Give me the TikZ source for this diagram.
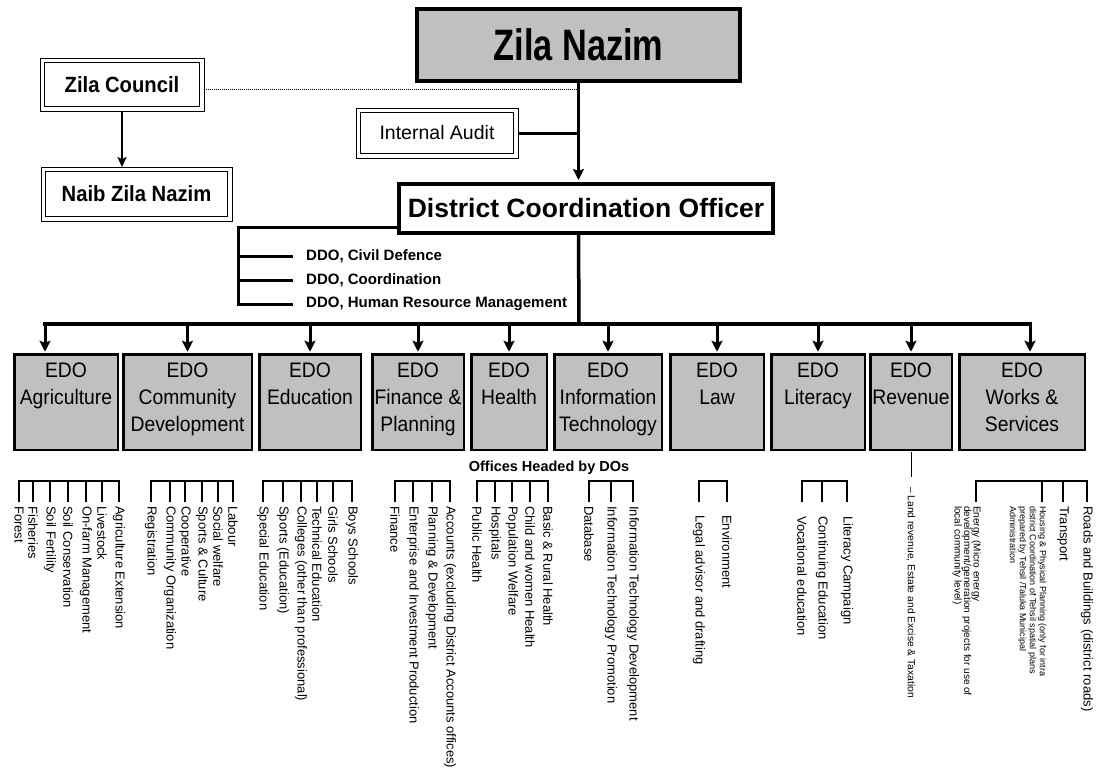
\documentclass[tikz,border=0pt]{standalone}
\usepackage{fontspec}
\setmainfont{Liberation Sans}
\newfontfamily\nazimfont[FakeStretch=0.78]{Liberation Sans}
\newfontfamily\condfont[FakeStretch=0.92]{Liberation Sans}
\usetikzlibrary{arrows.meta}
\definecolor{boxgray}{HTML}{C0C0C0}

% text of an EDO box, set from the top of the box
\newcommand{\edolines}[2]{\parbox[c][88pt][t]{#1}{\centering\rule{0pt}{19pt}#2}}

\tikzset{
  heavybox/.style={draw, line width=4pt, inner sep=0pt},
  framed/.style={draw, line width=1.8pt, fill=white, inner sep=0pt},
  edobox/.style={draw, fill=boxgray, line width=2.5pt, inner sep=0pt,
    minimum height=95.5pt, font=\condfont\fontsize{21}{27}\selectfont},
  conn/.style={line width=3.5pt},
  arr/.style={line width=3pt, -{Stealth[length=11pt, width=11pt, inset=2pt]}},
  thinarr/.style={line width=2pt, -{Stealth[length=10pt, width=9pt, inset=2pt]}},
  brk/.style={line width=1.8pt},
  ddo/.style={anchor=west, inner sep=0pt, font=\bfseries\fontsize{15}{18}\selectfont},
  item/.style={rotate=-90, anchor=west, inner sep=0pt, font=\fontsize{13}{15}\selectfont},
  smallitem/.style={rotate=-90, anchor=north west, inner sep=0pt, align=left},
}

\begin{document}
\begin{tikzpicture}[x=1pt, y=-1pt]
\useasboundingbox (0,0) rectangle (1096,771);
\fill[white] (0,0) rectangle (1096,771);

% ---- top of the hierarchy ----
\node[heavybox, fill=boxgray, minimum width=323pt, minimum height=72pt,
  font=\nazimfont\bfseries\fontsize{44}{50}\selectfont] (zn) at (578.5,45) {Zila Nazim};
\node[heavybox, fill=white, minimum width=374pt, minimum height=49pt,
  font=\bfseries\fontsize{26.5}{32}\selectfont] (dco) at (586,208.5) {District Coordination Officer};

\node[framed, minimum width=155pt, minimum height=44pt,
  font=\condfont\bfseries\fontsize{22}{26}\selectfont] (zc) at (122,84.5) {Zila Council};
\node[framed, minimum width=182pt, minimum height=45pt,
  font=\condfont\bfseries\fontsize{22}{26}\selectfont] (nzn) at (136.5,194) {Naib Zila Nazim};
\node[framed, minimum width=153pt, minimum height=41pt,
  font=\fontsize{19.5}{23}\selectfont] (ia) at (437,133) {Internal Audit};

% thin outer frames of the double-lined boxes
\foreach \n in {zc,nzn,ia}
  \draw[line width=0.8pt] ([shift={(-3.5pt,3.5pt)}]\n.north west)
    rectangle ([shift={(3.5pt,-3.5pt)}]\n.south east);

\draw[line width=1pt, densely dotted] ([xshift=3.5pt,yshift=-4.5pt]zc.east)
  -- ([yshift=-4.5pt]zc.east -| zn.south);
\draw[thinarr] ([yshift=-3.5pt]zc.south) -- ([yshift=3.5pt]zc.south |- nzn.north);
\draw[arr] (zn.south) -- ([yshift=2pt]dco.north -| zn.south);
\draw[line width=3pt] ([xshift=3.5pt]ia.east) -- (ia.east -| zn.south);

% ---- deputy district officers ----
\node[ddo] (ddo1) at (306,256) {DDO, Civil Defence};
\node[ddo] (ddo2) at (306,280) {DDO, Coordination};
\node[ddo] (ddo3) at (306,304) {DDO, Human Resource Management};
\draw[line width=3pt] ([yshift=-19pt]dco.west) -| ([xshift=-68pt]ddo3.west)
  -- ([xshift=-13pt]ddo3.west);
\foreach \i in {1,2}
  \draw[line width=3pt] ([xshift=-68pt]ddo\i.west) -- ([xshift=-13pt]ddo\i.west);

% ---- executive district officers ----
\node[edobox, minimum width=103.5pt] (a1) at (66,402) {\edolines{100pt}{EDO\\Agriculture}};
\node[edobox, minimum width=128.5pt] (a2) at (187.5,402) {\edolines{124pt}{EDO\\Community\\Development}};
\node[edobox, minimum width=101.5pt] (a3) at (310,402) {\edolines{98pt}{EDO\\Education}};
\node[edobox, minimum width=91.5pt] (a4) at (418,402) {\edolines{88pt}{EDO\\Finance \&\\Planning}};
\node[edobox, minimum width=75.5pt] (a5) at (509,402) {\edolines{72pt}{EDO\\Health}};
\node[edobox, minimum width=107.5pt] (a6) at (608,402) {\edolines{104pt}{EDO\\Information\\Technology}};
\node[edobox, minimum width=93.5pt] (a7) at (717,402) {\edolines{90pt}{EDO\\Law}};
\node[edobox, minimum width=93.5pt] (a8) at (818,402) {\edolines{90pt}{EDO\\Literacy}};
\node[edobox, minimum width=81.5pt] (a9) at (911,402) {\edolines{78pt}{EDO\\Revenue}};
\node[edobox, minimum width=125.5pt] (a10) at (1022,402) {\edolines{120pt}{EDO\\Works \&\\Services}};

\coordinate (bus) at (579,324);
\draw[conn] (dco.south -| zn.south) -- (bus);
\draw[conn, line cap=rect] ([xshift=-21pt]a1.north |- bus) -- ([xshift=8pt]a10.north |- bus);
\draw[arr] ([xshift=-21pt]a1.north |- bus) -- ([xshift=-21pt,yshift=1.25pt]a1.north);
\foreach \n in {a2,a3,a4,a5,a6,a7,a8,a9}
  \draw[arr] (\n.north |- bus) -- ([yshift=1.25pt]\n.north);
\draw[arr] ([xshift=8pt]a10.north |- bus) -- ([xshift=8pt,yshift=1.25pt]a10.north);

\node[inner sep=0pt, font=\bfseries\fontsize{14.5}{17}\selectfont] (offices) at (549,468) {Offices Headed by DOs};

% ---- offices under each EDO ----
\coordinate (btop) at (0,481);
\coordinate (bbot) at (0,502);

\foreach \x/\t [count=\i] in {19/Forest, 33/Fisheries, 50/Soil Fertility, 68/Soil Conservation,
    86/On-farm Management, 102/Livestock, 119/Agriculture Extension}
  \node[item] (agr\i) at (\x,506) {\t};
\draw[brk] (agr1.west |- bbot) |- (agr7.west |- btop) -- (agr7.west |- bbot);
\foreach \i in {2,...,6} \draw[brk] (agr\i.west |- btop) -- (agr\i.west |- bbot);

\foreach \x/\t [count=\i] in {151/Registration, 170/Community Organization, 185/Cooperative,
    202/Sports \& Culture, 218/Social welfare, 233/Labour}
  \node[item] (com\i) at (\x,506) {\t};
\draw[brk] (com1.west |- bbot) |- (com6.west |- btop) -- (com6.west |- bbot);
\foreach \i in {2,...,5} \draw[brk] (com\i.west |- btop) -- (com\i.west |- bbot);

\foreach \x/\t [count=\i] in {263/Special Education, 283/Sports (Education),
    301/Colleges (other than professional), 317/Technical Education, 333/Girls Schools, 352/Boys Schools}
  \node[item] (edu\i) at (\x,506) {\t};
\draw[brk] (edu1.west |- bbot) |- (edu6.west |- btop) -- (edu6.west |- bbot);
\foreach \i in {2,...,5} \draw[brk] (edu\i.west |- btop) -- (edu\i.west |- bbot);

\foreach \x/\t [count=\i] in {395/Finance, 413/Enterprise and Investment Production,
    432/Planning \& Development, 450/Accounts (excluding District Accounts offices)}
  \node[item] (fin\i) at (\x,506) {\t};
\draw[brk] (fin1.west |- bbot) |- (fin4.west |- btop) -- (fin4.west |- bbot);
\foreach \i in {2,3} \draw[brk] (fin\i.west |- btop) -- (fin\i.west |- bbot);

\foreach \x/\t [count=\i] in {477/Public Health, 495/Hospitals, 512/Population Welfare,
    530/Child and women Health, 548/Basic \& Rural Health}
  \node[item] (hea\i) at (\x,506) {\t};
\draw[brk] (hea1.west |- bbot) |- (hea5.west |- btop) -- (hea5.west |- bbot);
\foreach \i in {2,3,4} \draw[brk] (hea\i.west |- btop) -- (hea\i.west |- bbot);

\foreach \x/\t [count=\i] in {589/Database, 611/Information Technology Promotion,
    633/Information Technology Development}
  \node[item] (it\i) at (\x,506) {\t};
\draw[brk] (it1.west |- bbot) |- (it3.west |- btop) -- (it3.west |- bbot);
\draw[brk] (it2.west |- btop) -- (it2.west |- bbot);

\foreach \x/\t [count=\i] in {699/Legal advisor and drafting, 727/Environment}
  \node[item] (law\i) at (\x,515) {\t};
\draw[brk] (law1.west |- bbot) |- (law2.west |- btop) -- (law2.west |- bbot);

\foreach \x/\t [count=\i] in {802/Vocational education, 822/Continuing Education, 847/Literacy Campaign}
  \node[item] (lit\i) at (\x,516) {\t};
\draw[brk] (lit1.west |- bbot) |- (lit3.west |- btop) -- (lit3.west |- bbot);
\draw[brk] (lit2.west |- btop) -- (lit2.west |- bbot);

\coordinate (revend) at (0,477);
\draw[line width=1pt] ([yshift=-1.25pt]a9.south) -- (a9.south |- revend);
\node[item, font=\fontsize{10.3}{12}\selectfont] (rev) at (911,487)
  {– Land revenue, Estate and Excise \& Taxation};

\coordinate (wk1) at (976,0);
\coordinate (wk2) at (1042,0);
\coordinate (wk3) at (1063,0);
\coordinate (wk4) at (1087,0);
\draw[brk] (wk1 |- bbot) |- (wk4 |- btop) -- (wk4 |- bbot);
\foreach \n in {wk2,wk3} \draw[brk] (\n |- btop) -- (\n |- bbot);
\node[smallitem, font=\fontsize{10}{9.5}\selectfont] (wkt1) at (981,506)
  {Energy (Micro energy\\development/generation projects for use of\\local community level)};
\node[smallitem, font=\fontsize{9}{10}\selectfont] (wkt2) at (1046.5,506)
  {Housing \& Physical Planning (only for intra\\district Coordination of Tehsil spatial plans\\prepared by Tehsil /Taluka Municipal\\Administration};
\node[item] (wkt3) at (1063,506) {Transport};
\node[item] (wkt4) at (1087,506) {Roads and Buildings (district roads)};
\end{tikzpicture}
\end{document}
